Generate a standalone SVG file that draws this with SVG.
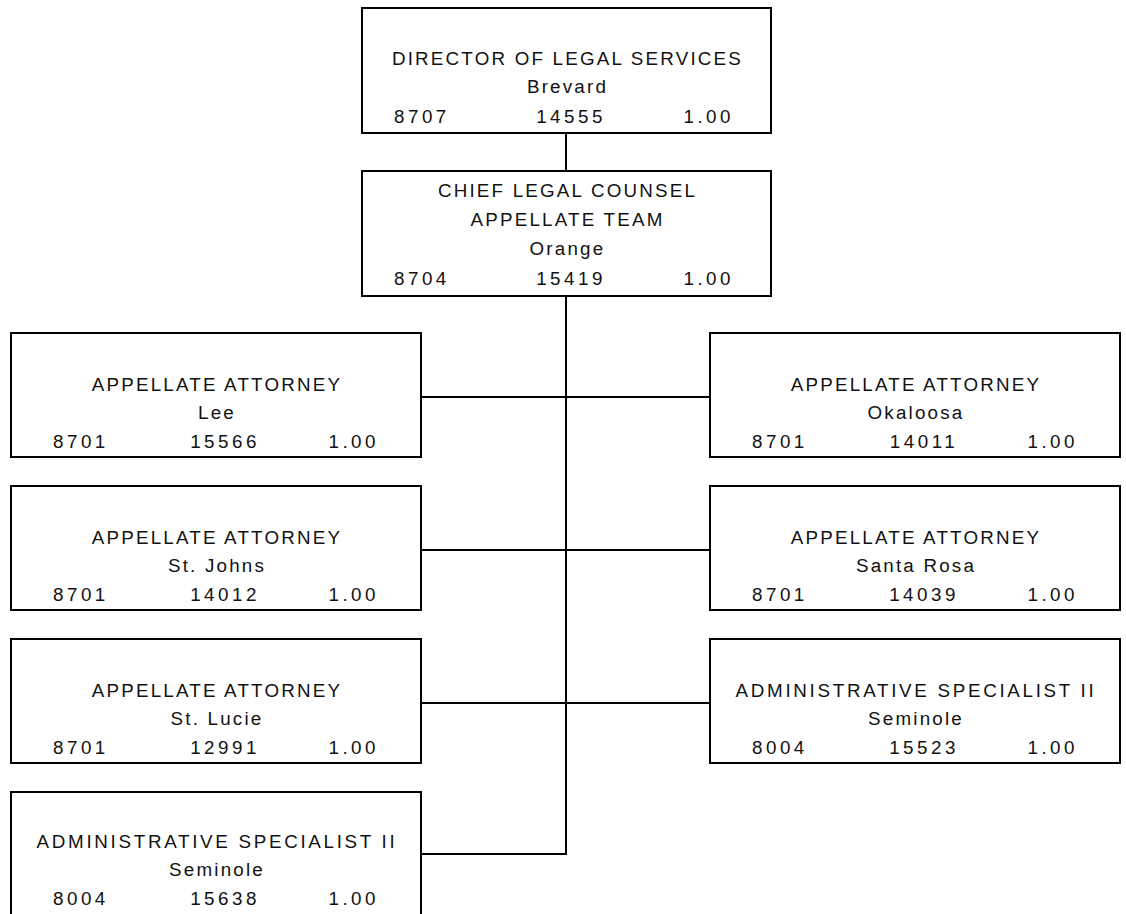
<svg xmlns="http://www.w3.org/2000/svg" width="1126" height="914" viewBox="0 0 1126 914">
  <style>
    .box { fill: #ffffff; stroke: #000000; stroke-width: 2; }
    .link { fill: none; stroke: #000000; stroke-width: 2; }
    text { font-family: "Liberation Sans", Arial, sans-serif; font-size: 18.8px; fill: #111111; letter-spacing: 2.2px; }
    .c { text-anchor: middle; }
    .wide { letter-spacing: 2.7px; }
    .num { letter-spacing: 3.5px; }
    .s { text-anchor: start; }
    .m { text-anchor: middle; }
    .e { text-anchor: end; }
  </style>

  <rect width="1126" height="914" fill="#ffffff"/>

  <!-- reporting lines: spine plus one branch per row -->
  <g id="connectors">
    <line class="link" x1="566" y1="133" x2="566" y2="171"/>
    <line class="link" x1="566" y1="296" x2="566" y2="855"/>
    <line class="link" x1="421" y1="397" x2="710" y2="397"/>
    <line class="link" x1="421" y1="550" x2="710" y2="550"/>
    <line class="link" x1="421" y1="703" x2="710" y2="703"/>
    <line class="link" x1="421" y1="854" x2="567" y2="854"/>
  </g>

  <g id="director">
    <rect class="box" x="362" y="8" width="409" height="125"/>
    <text class="c" x="567.5" y="65">DIRECTOR OF LEGAL SERVICES</text>
    <text class="c" x="567.5" y="93">Brevard</text>
    <text class="num s" x="394" y="123">8707</text>
    <text class="num m" x="571" y="123">14555</text>
    <text class="num e" x="734" y="123">1.00</text>
  </g>

  <g id="chief">
    <rect class="box" x="362" y="171" width="409" height="125"/>
    <text class="c" x="567.5" y="197">CHIEF LEGAL COUNSEL</text>
    <text class="c" x="567.5" y="226">APPELLATE TEAM</text>
    <text class="c" x="567.5" y="255">Orange</text>
    <text class="num s" x="394" y="285">8704</text>
    <text class="num m" x="571" y="285">15419</text>
    <text class="num e" x="734" y="285">1.00</text>
  </g>

  <g id="attorney-lee">
    <rect class="box" x="11" y="333" width="410" height="124"/>
    <text class="c" x="217" y="391">APPELLATE ATTORNEY</text>
    <text class="c" x="217" y="419">Lee</text>
    <text class="num s" x="53" y="448">8701</text>
    <text class="num m" x="225" y="448">15566</text>
    <text class="num e" x="379" y="448">1.00</text>
  </g>

  <g id="attorney-stjohns">
    <rect class="box" x="11" y="486" width="410" height="124"/>
    <text class="c" x="217" y="544">APPELLATE ATTORNEY</text>
    <text class="c" x="217" y="572">St. Johns</text>
    <text class="num s" x="53" y="601">8701</text>
    <text class="num m" x="225" y="601">14012</text>
    <text class="num e" x="379" y="601">1.00</text>
  </g>

  <g id="attorney-stlucie">
    <rect class="box" x="11" y="639" width="410" height="124"/>
    <text class="c" x="217" y="697">APPELLATE ATTORNEY</text>
    <text class="c" x="217" y="725">St. Lucie</text>
    <text class="num s" x="53" y="754">8701</text>
    <text class="num m" x="225" y="754">12991</text>
    <text class="num e" x="379" y="754">1.00</text>
  </g>

  <g id="admin-15638">
    <rect class="box" x="11" y="792" width="410" height="124"/>
    <text class="c wide" x="217" y="848">ADMINISTRATIVE SPECIALIST II</text>
    <text class="c" x="217" y="876">Seminole</text>
    <text class="num s" x="53" y="905">8004</text>
    <text class="num m" x="225" y="905">15638</text>
    <text class="num e" x="379" y="905">1.00</text>
  </g>

  <g id="attorney-okaloosa">
    <rect class="box" x="710" y="333" width="410" height="124"/>
    <text class="c" x="916" y="391">APPELLATE ATTORNEY</text>
    <text class="c" x="916" y="419">Okaloosa</text>
    <text class="num s" x="752" y="448">8701</text>
    <text class="num m" x="924" y="448">14011</text>
    <text class="num e" x="1078" y="448">1.00</text>
  </g>

  <g id="attorney-santarosa">
    <rect class="box" x="710" y="486" width="410" height="124"/>
    <text class="c" x="916" y="544">APPELLATE ATTORNEY</text>
    <text class="c" x="916" y="572">Santa Rosa</text>
    <text class="num s" x="752" y="601">8701</text>
    <text class="num m" x="924" y="601">14039</text>
    <text class="num e" x="1078" y="601">1.00</text>
  </g>

  <g id="admin-15523">
    <rect class="box" x="710" y="639" width="410" height="124"/>
    <text class="c wide" x="916" y="697">ADMINISTRATIVE SPECIALIST II</text>
    <text class="c" x="916" y="725">Seminole</text>
    <text class="num s" x="752" y="754">8004</text>
    <text class="num m" x="924" y="754">15523</text>
    <text class="num e" x="1078" y="754">1.00</text>
  </g>
</svg>
